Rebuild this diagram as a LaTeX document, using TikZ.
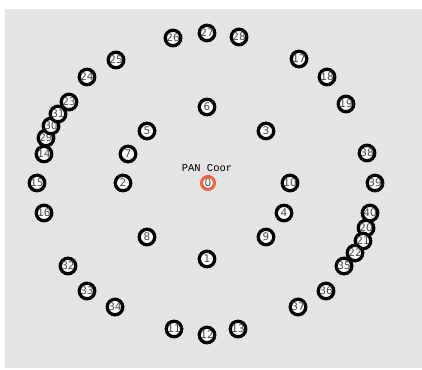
\documentclass[tikz,border=0pt]{standalone}
\usepackage{fontspec}
\setsansfont{DejaVu Sans}
\newfontfamily\labmono{Liberation Mono}
\definecolor{bggray}{HTML}{E4E4E4}
\definecolor{coorange}{HTML}{F2643F}
\tikzset{
  mote/.style={circle, draw=black, line width=3.3pt, fill=white, minimum size=15.5pt, inner sep=0pt,
    font=\sffamily\fontsize{10.5}{10.5}\selectfont, text=black!70},
  coord/.style={circle, draw=coorange, line width=3pt, fill=white, minimum size=13pt, inner sep=0pt,
    font=\sffamily\fontsize{10.5}{10.5}\selectfont, text=black!70},
  lbl/.style={font=\labmono\fontsize{10.5}{10.5}\selectfont, text=black, inner sep=0pt}
}
\begin{document}
\begin{tikzpicture}[x=1pt,y=-1pt]
\useasboundingbox (0,0) rectangle (422,369);
\fill[white] (0,0) rectangle (422,369);
\fill[bggray] (5,9) rectangle (421.5,368);
\node[coord] (n0) at (208,183) {0};
\node[lbl] (panlbl) at (207,168.5) {PAN Coor};
\foreach \nm/\x/\y in {
  1/207/259, 2/123/183, 3/266/131, 4/284/213, 5/147/131, 6/207/107, 7/128/154, 8/147/237, 9/266/237, 10/290/183,
  11/174/329, 12/207/335, 13/238/329, 14/44/154, 15/37/183, 16/44/213, 17/299/59, 18/327/77, 19/346/104,
  20/366/228, 21/363/241, 22/355/253, 23/69/102, 24/87/77, 25/116/60, 26/173/38, 27/207/33, 28/239/37,
  29/46/138, 30/51/126, 31/58/114, 32/68/266, 33/87/291, 34/115/307, 35/344/266, 36/326/291, 37/298/307,
  38/367/153, 39/375/183, 40/370/213}
{\node[mote] (n\nm) at (\x,\y) {\nm};}
\end{tikzpicture}
\end{document}
